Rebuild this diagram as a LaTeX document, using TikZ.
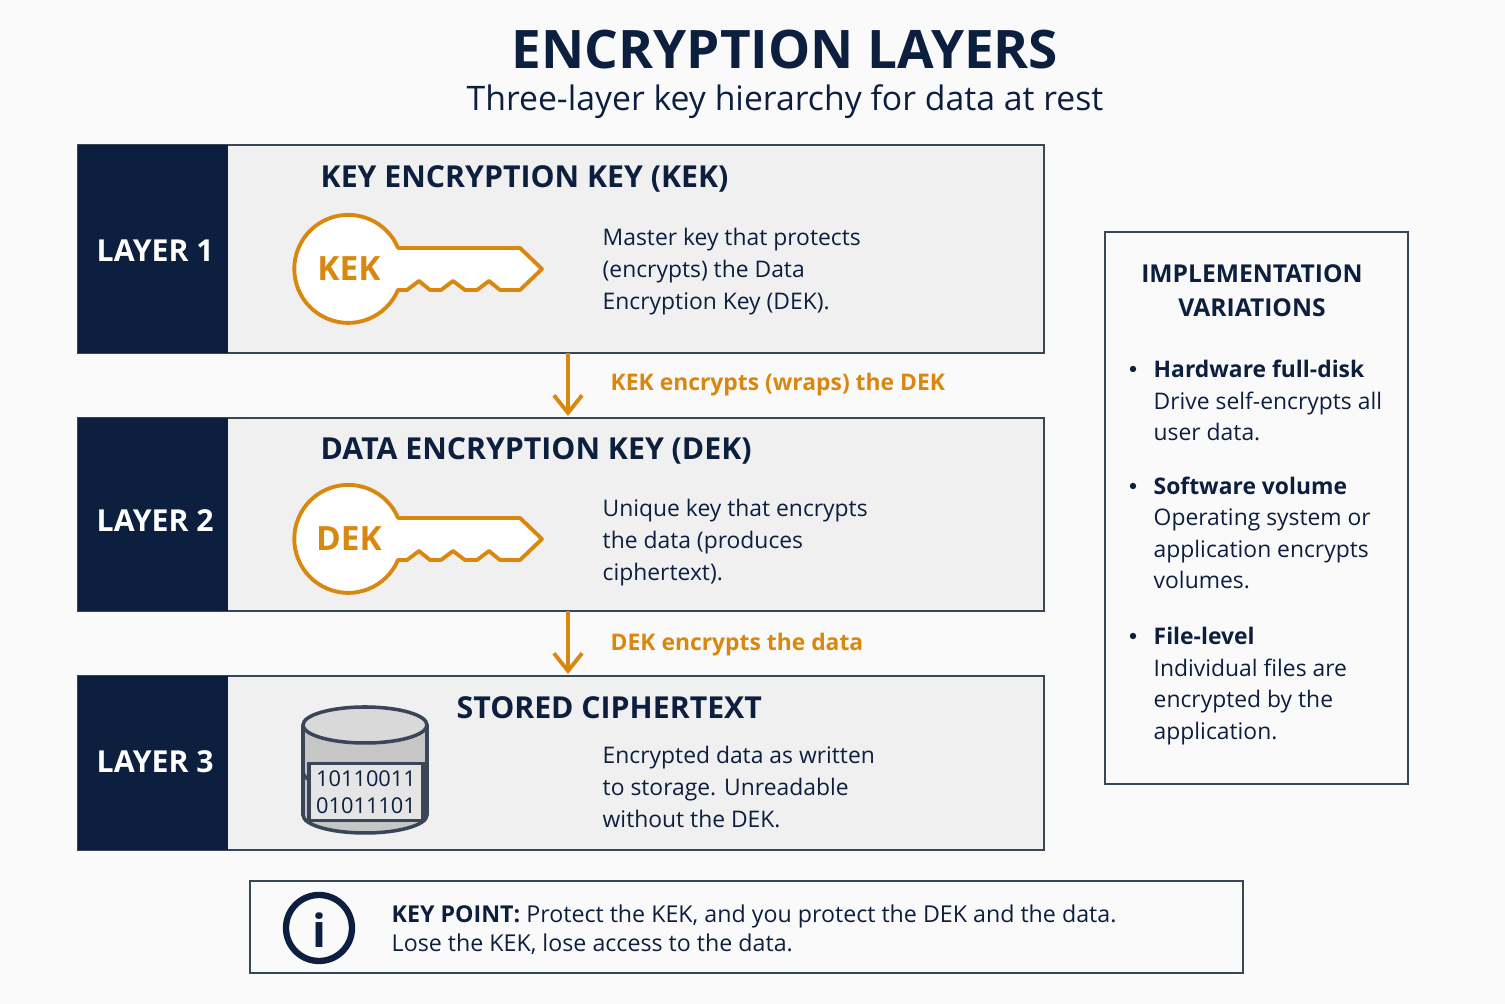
\documentclass[tikz,border=0pt]{standalone}
\usepackage{fontspec}
\setmainfont{Open Sans}
\usetikzlibrary{arrows.meta,positioning}
\definecolor{navy}{HTML}{0D1F3F}
\definecolor{amber}{HTML}{D9870F}
\definecolor{panel}{HTML}{F0F0F0}
\definecolor{frame}{HTML}{3A4558}
\definecolor{page}{HTML}{FAFAFA}
\tikzset{
  layer/.style={draw=frame, fill=panel, line width=0.6pt},
  band/.style={fill=navy},
  bandtext/.style={text=white, font=\fontsize{8.6}{10}\selectfont\bfseries, anchor=west, inner sep=0pt},
  heading/.style={text=navy, font=\fontsize{8.6}{10}\selectfont\bfseries, anchor=west, inner sep=0pt},
  body/.style={text=navy, font=\fontsize{6.5}{9.2}\selectfont, anchor=north west, align=left, inner sep=0pt},
  keyline/.style={draw=amber, line width=1.1pt, fill=white, line join=round},
  flow/.style={draw=amber, line width=1.1pt, -{Straight Barb[length=5pt,width=8pt]}},
  flowtext/.style={text=amber, font=\fontsize{6.5}{8}\selectfont\bfseries, anchor=west, inner sep=0pt}
}
\newcommand{\drawkey}[3]{% center x, center y, label
  \begin{scope}[shift={(#1,#2)}]
    \path[keyline] (49,-21) -- (171,-21) -- (193,0) -- (171,21) -- (151,21) -- (140,12) -- (128,21) -- (116,21) -- (104,12) -- (92,21) -- (81,21) -- (70,12) -- (58,21) -- (49,21)
      arc[start angle=23, end angle=337, radius=54] -- cycle;
    \node[text=amber, font=\fontsize{9.5}{10}\selectfont\bfseries] at (0,0) {#3};
  \end{scope}}
\begin{document}
\begin{tikzpicture}[x=0.01cm, y=-0.01cm]
  \useasboundingbox[fill=page] (0,0) rectangle (1505,1004);
  % titel
  \node[text=navy, font=\fontsize{15.1}{18}\selectfont\bfseries] (title) at (785,50) {ENCRYPTION LAYERS};
  \node[text=navy, font=\fontsize{9.6}{12}\selectfont] (subtitle) at (785,102) {Three-layer key hierarchy for data at rest};

  % layer 1
  \path[layer] (78,145) rectangle (1044,353);
  \path[band] (78,145) rectangle (228,353);
  \node[bandtext] (l1) at (96,251) {LAYER 1};
  \node[heading] (h1) at (320,179) {KEY ENCRYPTION KEY (KEK)};
  \drawkey{349}{269}{KEK}
  \node[body] (t1) at (602,227) {Master key that protects\\(encrypts) the Data\\Encryption Key (DEK).};

  % layer 2
  \path[layer] (78,418) rectangle (1044,611);
  \path[band] (78,418) rectangle (228,611);
  \node[bandtext] (l2) at (96,521) {LAYER 2};
  \node[heading] (h2) at (320,451) {DATA ENCRYPTION KEY (DEK)};
  \drawkey{349}{539}{DEK}
  \node[body] (t2) at (602,498) {Unique key that encrypts\\the data (produces\\ciphertext).};

  % layer 3
  \path[layer] (78,676) rectangle (1044,850);
  \path[band] (78,676) rectangle (228,850);
  \node[bandtext] (l3) at (96,762) {LAYER 3};
  \node[heading] (h3) at (456,708) {STORED CIPHERTEXT};
  \node[body] (t3) at (602,745) {Encrypted data as written\\to storage. Unreadable\\without the DEK.};
  % zylinder
  \path[draw=frame, fill=gray!45, line width=1pt] (303,725) -- (303,815) arc[start angle=180, end angle=0, x radius=62, y radius=18] -- (427,725);
  \path[draw=frame, fill=gray!30, line width=1pt] (365,725) ellipse[x radius=62, y radius=18];
  \draw[frame, line width=1pt] (303,772) arc[start angle=180, end angle=0, x radius=62, y radius=18];
  \node[draw=frame, fill=gray!20, line width=1pt, inner sep=2pt, text=navy,
    font=\fontsize{6.2}{7.6}\selectfont, align=center] (bits) at (366,792) {10110011\\01011101};

  % pfeile
  \draw[flow] (568,353) -- (568,416);
  \node[flowtext] (f1) at (610,385) {KEK encrypts (wraps) the DEK};
  \draw[flow] (568,611) -- (568,674);
  \node[flowtext] (f2) at (610,645) {DEK encrypts the data};

  % varianten
  \path[draw=frame, fill=page, line width=0.6pt] (1105,232) rectangle (1408,784);
  \node[text=navy, font=\fontsize{7.0}{9.6}\selectfont\bfseries, align=center] (impl) at (1252,291) {IMPLEMENTATION\\VARIATIONS};
  \foreach \y/\head/\txt in {369/Hardware full-disk/{Drive self-encrypts all\\user data.},
                             486/Software volume/{Operating system or\\application encrypts\\volumes.},
                             636/File-level/{Individual files are\\encrypted by the\\application.}} {
    \fill[navy] (1133,\y) circle (3.2);
    \node[text=navy, font=\fontsize{6.5}{8}\selectfont\bfseries, anchor=west, inner sep=0pt] at (1153,\y) {\head};
    \node[body, font=\fontsize{6.5}{9}\selectfont] at (1153,\y+22) {\txt};
  }

  % hinweis
  \path[draw=frame, fill=page, line width=0.6pt] (250,881) rectangle (1243,973);
  \draw[navy, line width=1.8pt] (319,928) circle (33);
  \node[text=navy, font=\fontsize{13}{14}\selectfont\bfseries] (info) at (319,930) {i};
  \node[body, font=\fontsize{6.6}{8.3}\selectfont] (note) at (391,904)
    {\textbf{KEY POINT:} Protect the KEK, and you protect the DEK and the data.\\Lose the KEK, lose access to the data.};
\end{tikzpicture}
\end{document}
